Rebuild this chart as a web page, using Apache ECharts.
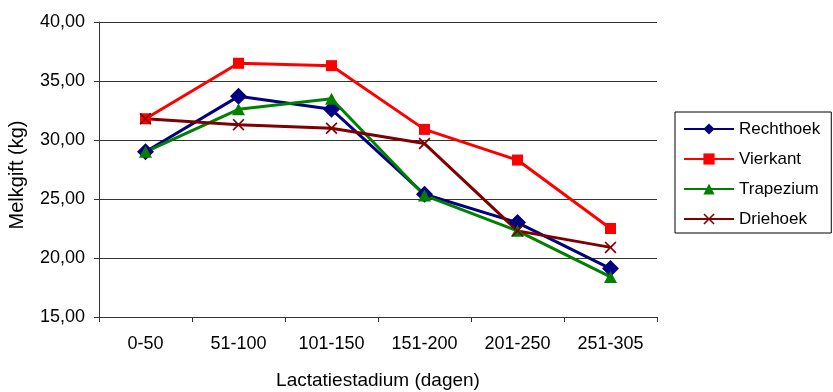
<!DOCTYPE html>
<html>
<head>
<meta charset="utf-8">
<script src="https://cdn.jsdelivr.net/npm/echarts@6/dist/echarts.min.js"></script>
<style>
  html, body { margin: 0; padding: 0; background: #fff; }
  #chart { width: 833px; height: 392px; }
</style>
</head>
<body>
<div id="chart"></div>
<script>
// Lactation stages (days)
const categories = ['0-50', '51-100', '101-150', '151-200', '201-250', '251-305'];

// Milk yield (kg) per housing shape
const rechthoek = [29.0, 33.7, 32.6, 25.4, 23.0, 19.1];
const vierkant  = [31.8, 36.5, 36.3, 30.9, 28.3, 22.5];
const trapezium = [29.0, 32.6, 33.5, 25.3, 22.3, 18.4];
const driehoek  = [31.8, 31.3, 31.0, 29.7, 22.3, 20.9];

const crossPath = 'path://M0,1 L1,0 L5,4 L9,0 L10,1 L6,5 L10,9 L9,10 L5,6 L1,10 L0,9 L4,5 Z';
const sans = '"Liberation Sans", Arial, sans-serif';

function lineSeries(name, data, color, symbol, size) {
  return {
    name: name,
    type: 'line',
    data: data,
    symbol: symbol,
    symbolSize: size,
    showAllSymbol: true,
    lineStyle: { color: color, width: 3 },
    itemStyle: { color: color },
    emphasis: { disabled: true },
    animation: false
  };
}

const chart = echarts.init(document.getElementById('chart'));
chart.setOption({
  backgroundColor: '#fff',
  animation: false,
  grid: { left: 99, right: 176, top: 22, bottom: 75, outerBoundsMode: 'none', containLabel: false },
  legend: {
    orient: 'vertical',
    left: 675,
    top: 112,
    padding: [8, 11, 5, 8],
    itemGap: 12,
    itemWidth: 50,
    itemHeight: 14,
    borderColor: '#000',
    borderWidth: 1,
    textStyle: { fontFamily: sans, fontSize: 17, color: '#000', lineHeight: 18 },
    data: ['Rechthoek', 'Vierkant', 'Trapezium', 'Driehoek']
  },
  xAxis: {
    type: 'category',
    data: categories,
    boundaryGap: true,
    name: 'Lactatiestadium (dagen)',
    nameLocation: 'middle',
    nameGap: 54,
    nameTextStyle: { fontFamily: sans, fontSize: 19, color: '#000' },
    axisLine: { lineStyle: { color: '#333', width: 1 } },
    axisTick: { show: true, length: 5, lineStyle: { color: '#333' } },
    axisLabel: { fontFamily: sans, fontSize: 18, color: '#000', margin: 18 }
  },
  yAxis: {
    type: 'value',
    min: 15,
    max: 40,
    interval: 5,
    name: 'Melkgift (kg)',
    nameLocation: 'middle',
    nameGap: 72,
    nameTextStyle: { fontFamily: sans, fontSize: 20, color: '#000', padding: [0, 11, 0, 0] },
    axisLine: { show: true, lineStyle: { color: '#333', width: 1 } },
    axisTick: { show: true, length: 5, lineStyle: { color: '#333' } },
    axisLabel: {
      fontFamily: sans, fontSize: 18, color: '#000', margin: 14,
      formatter: v => v.toFixed(2).replace('.', ',')
    },
    splitLine: { show: true, lineStyle: { color: '#333', width: 1 } }
  },
  series: [
    lineSeries('Rechthoek', rechthoek, '#000080', 'diamond', 17),
    lineSeries('Vierkant', vierkant, '#FF0000', 'rect', 11),
    lineSeries('Trapezium', trapezium, '#008000', 'triangle', [13, 12]),
    lineSeries('Driehoek', driehoek, '#800000', crossPath, 12)
  ]
});
</script>
</body>
</html>
